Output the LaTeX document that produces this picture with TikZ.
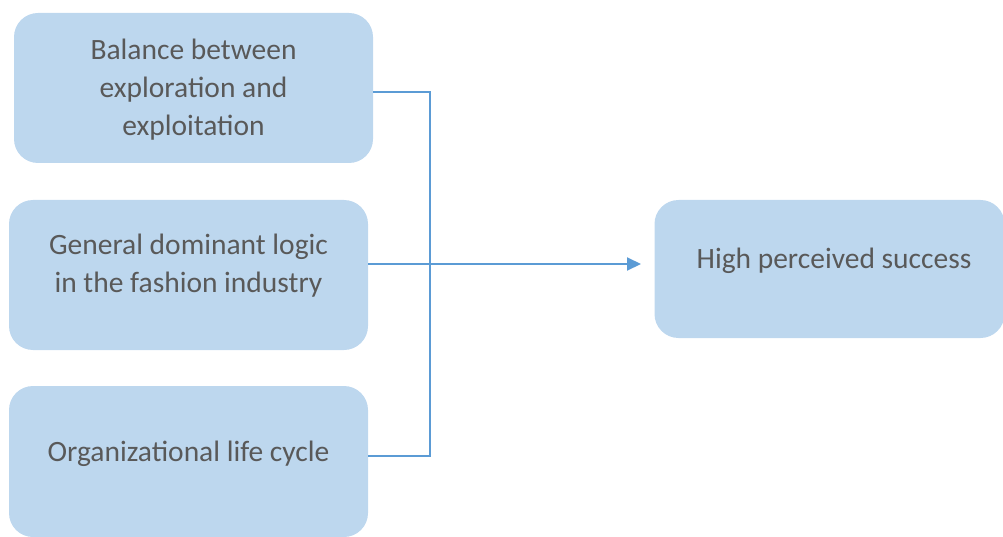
\documentclass[tikz,border=0pt]{standalone}
\usepackage{fontspec}
\setmainfont{Carlito}
\usetikzlibrary{arrows.meta}
\definecolor{boxfill}{HTML}{BDD7EE}
\definecolor{txt}{HTML}{595959}
\definecolor{linec}{HTML}{5B9BD5}
\begin{document}
\begin{tikzpicture}[x=1pt,y=-1pt,
  box/.style={draw=none,fill=boxfill,rounded corners=24pt},
  lbl/.style={text=txt,font=\fontsize{29.5}{38}\selectfont,align=center,inner sep=0pt},
  conn/.style={draw=linec,line width=2pt}]
\useasboundingbox (0,0) rectangle (1003,537);
\node[box,minimum width=359pt,minimum height=150pt,inner sep=0pt] (b1) at (193.5,88) {};
\node[box,minimum width=359pt,minimum height=150pt,inner sep=0pt] (b2) at (188.5,275) {};
\node[box,minimum width=359pt,minimum height=151pt,inner sep=0pt] (b3) at (188.5,461.5) {};
\node[box,minimum width=350pt,minimum height=138pt,inner sep=0pt] (b4) at (829.5,269) {};
\node[lbl] (t1) at (193.5,90) {Balance between\\exploration and\\exploitation};
\node[lbl] (t2) at (188.5,266) {General dominant logic\\in the fashion industry};
\node[lbl] (t3) at (188.5,454) {Organizational life cycle};
\node[lbl] (t4) at (834,261) {High perceived success};
\coordinate (j1) at (430,92);
\coordinate (j3) at (430,456);
\coordinate (tip) at (641,264);
\draw[conn] (b1.east |- j1) -- (j1) -- (j3) -- (b3.east |- j3);
\draw[conn,-{Triangle[length=14pt,width=13pt]}] (b2.east |- tip) -- (tip);
\end{tikzpicture}
\end{document}
